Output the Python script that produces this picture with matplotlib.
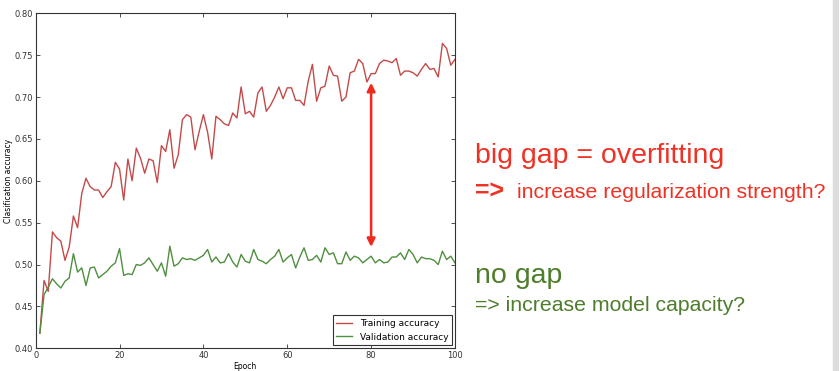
import numpy as np
import matplotlib
matplotlib.use("Agg")
import matplotlib.pyplot as plt
from matplotlib.patches import Rectangle

epochs = np.arange(1, 101)

train_acc = [
    0.418, 0.481, 0.468, 0.539, 0.532, 0.528, 0.505, 0.521, 0.558, 0.544,
    0.585, 0.603, 0.593, 0.589, 0.589, 0.580, 0.587, 0.593, 0.622, 0.614,
    0.577, 0.626, 0.600, 0.639, 0.627, 0.609, 0.626, 0.624, 0.598, 0.642,
    0.635, 0.661, 0.615, 0.631, 0.673, 0.679, 0.676, 0.637, 0.659, 0.679,
    0.658, 0.626, 0.677, 0.673, 0.668, 0.666, 0.681, 0.675, 0.712, 0.680,
    0.683, 0.676, 0.705, 0.712, 0.683, 0.690, 0.700, 0.712, 0.698, 0.711,
    0.711, 0.696, 0.696, 0.690, 0.719, 0.739, 0.695, 0.711, 0.713, 0.737,
    0.726, 0.725, 0.695, 0.700, 0.729, 0.731, 0.745, 0.740, 0.718, 0.728,
    0.728, 0.740, 0.744, 0.743, 0.741, 0.746, 0.726, 0.731, 0.731, 0.729,
    0.725, 0.733, 0.740, 0.733, 0.734, 0.724, 0.764, 0.758, 0.738, 0.745,
]

val_acc = [
    0.418, 0.464, 0.473, 0.483, 0.477, 0.472, 0.480, 0.484, 0.513, 0.491,
    0.496, 0.475, 0.496, 0.497, 0.484, 0.488, 0.492, 0.498, 0.502, 0.519,
    0.487, 0.489, 0.488, 0.500, 0.499, 0.502, 0.508, 0.500, 0.492, 0.502,
    0.486, 0.522, 0.498, 0.501, 0.508, 0.506, 0.507, 0.505, 0.508, 0.511,
    0.518, 0.503, 0.509, 0.502, 0.503, 0.513, 0.503, 0.497, 0.512, 0.504,
    0.502, 0.518, 0.506, 0.504, 0.501, 0.506, 0.510, 0.518, 0.503, 0.508,
    0.512, 0.496, 0.509, 0.520, 0.505, 0.506, 0.511, 0.503, 0.520, 0.512,
    0.514, 0.501, 0.501, 0.515, 0.505, 0.510, 0.508, 0.502, 0.506, 0.510,
    0.502, 0.506, 0.502, 0.503, 0.509, 0.509, 0.514, 0.506, 0.518, 0.512,
    0.502, 0.509, 0.507, 0.507, 0.505, 0.500, 0.516, 0.506, 0.510, 0.502,
]

# the red "gap" arrow
gap_epoch = 80
gap_top = 0.717
gap_bottom = 0.521

red_txt = "#ee3326"
green_txt = "#4e7d2b"

plt.rcParams['font.family'] = ['DejaVu Sans']

fig = plt.figure(figsize=(8.39, 3.71), dpi=100)
ax = fig.add_axes([0.0425, 0.0612, 0.4998, 0.903])

ax.plot(epochs, train_acc, color='#c44a4a', lw=1.0, label='Training accuracy')
ax.plot(epochs, val_acc, color='#4f8f3f', lw=1.0, label='Validation accuracy')

ax.annotate('', xy=(gap_epoch, gap_top), xytext=(gap_epoch, gap_bottom),
            arrowprops=dict(arrowstyle='<|-|>', color='#ee2a1e', lw=1.8,
                            mutation_scale=12, shrinkA=0, shrinkB=0))

ax.set_xlim(0, 100)
ax.set_ylim(0.40, 0.80)
ax.set_xticks([0, 20, 40, 60, 80, 100])
ax.set_yticks(np.arange(0.40, 0.801, 0.05))
ax.set_yticklabels(['%.2f' % v for v in np.arange(0.40, 0.801, 0.05)])
ax.tick_params(direction='in', top=True, right=True, labelsize=6, length=3,
               width=0.6, pad=2, colors='#333333')
for s in ax.spines.values():
    s.set_linewidth(0.8)
    s.set_color('#333333')

ax.set_ylabel('Clasification accuracy', fontsize=5.5, labelpad=1)
ax.set_xlabel('Epoch', fontsize=5.5, labelpad=1.5)

leg = ax.legend(loc='lower right', fontsize=6.5, fancybox=False,
                framealpha=1, borderpad=0.4, handlelength=1.8,
                borderaxespad=0.35)
leg.get_frame().set_edgecolor('#333333')
leg.get_frame().set_linewidth(0.8)

fig.text(0.566, 0.56, 'big gap = overfitting', color=red_txt, fontsize=20.5,
         family='Liberation Sans')
fig.text(0.566, 0.466, '=>', color=red_txt, fontsize=18, fontweight='bold',
         family='Liberation Sans')
fig.text(0.616, 0.466, 'increase regularization strength?', color=red_txt,
         fontsize=15.3, family='Liberation Sans')
fig.text(0.566, 0.236, 'no gap', color=green_txt, fontsize=20.5,
         family='Liberation Sans')
fig.text(0.566, 0.163, '=> increase model capacity?', color=green_txt,
         fontsize=15.3, family='Liberation Sans')

# grey strip on the right edge of the slide
fig.patches.append(Rectangle((0.9925, 0), 0.0075, 1, transform=fig.transFigure,
                             color='#dddddd', zorder=0))

fig.savefig('out.png', dpi=100)
